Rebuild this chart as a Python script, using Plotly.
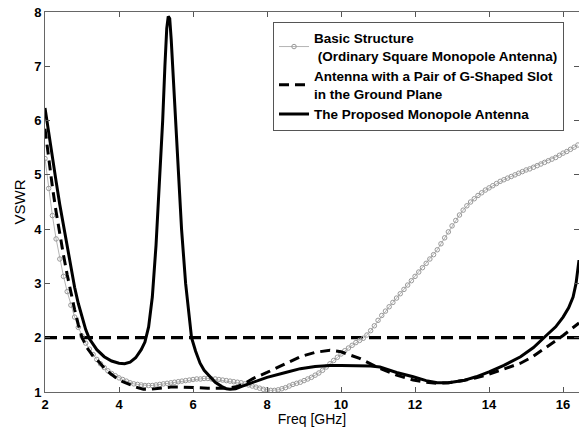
import plotly.graph_objects as go

# ---- Data ----
basic_freq = [round(2.0 + 0.1 * i, 1) for i in range(145)]  # 2.0 .. 16.4 GHz sample grid
basic_vswr = [
    5.30, 4.75, 4.25, 3.82, 3.45, 3.13, 2.85, 2.60, 2.38, 2.19,
    2.03, 1.90, 1.79, 1.69, 1.60, 1.52, 1.45, 1.39, 1.34, 1.30,
    1.26, 1.23, 1.20, 1.17, 1.15, 1.14, 1.13, 1.12, 1.12, 1.12,
    1.13, 1.14, 1.15, 1.16, 1.17, 1.18, 1.19, 1.20, 1.21, 1.22,
    1.23, 1.24, 1.24, 1.25, 1.25, 1.24, 1.24, 1.23, 1.22, 1.21,
    1.20, 1.19, 1.18, 1.17, 1.15, 1.13, 1.11, 1.09, 1.07, 1.05,
    1.04, 1.03, 1.03, 1.04, 1.06, 1.08, 1.11, 1.14, 1.16, 1.18,
    1.21, 1.24, 1.27, 1.31, 1.35, 1.40, 1.46, 1.52, 1.58, 1.64,
    1.70, 1.76, 1.81, 1.86, 1.91, 1.95, 1.99, 2.05, 2.13, 2.22,
    2.32, 2.41, 2.49, 2.57, 2.65, 2.73, 2.81, 2.89, 2.97, 3.05,
    3.13, 3.21, 3.29, 3.37, 3.45, 3.53, 3.62, 3.73, 3.84, 3.95,
    4.06, 4.16, 4.26, 4.35, 4.43, 4.50, 4.56, 4.62, 4.67, 4.72,
    4.76, 4.80, 4.84, 4.88, 4.91, 4.94, 4.97, 5.00, 5.03, 5.06,
    5.09, 5.11, 5.14, 5.17, 5.20, 5.23, 5.26, 5.29, 5.32, 5.36,
    5.40, 5.43, 5.47, 5.51, 5.55,
]

gslot_freq = [2.0, 2.1, 2.2, 2.3, 2.4, 2.5, 2.6, 2.7, 2.8, 2.9, 3.0, 3.15, 3.3,
              3.45, 3.6, 3.75, 3.9, 4.1, 4.3, 4.5, 4.66, 4.85, 5.1, 5.4, 5.7,
              6.0, 6.4, 6.9, 7.2, 7.45, 7.63, 8.0, 8.5, 8.9, 9.3, 9.7, 10.0,
              10.5, 11.0, 11.5, 11.95, 12.3, 12.6, 12.9, 13.3, 13.65, 14.0,
              14.4, 14.85, 15.2, 15.56, 15.8, 16.0, 16.2, 16.43]
gslot_vswr = [5.85, 5.28, 4.78, 4.32, 3.90, 3.52, 3.16, 2.83, 2.52, 2.24, 2.00,
              1.80, 1.66, 1.56, 1.44, 1.35, 1.27, 1.19, 1.13, 1.08, 1.05, 1.05,
              1.07, 1.09, 1.09, 1.08, 1.07, 1.07, 1.10, 1.18, 1.25, 1.36, 1.52,
              1.65, 1.73, 1.77, 1.74, 1.62, 1.45, 1.31, 1.22, 1.18, 1.16, 1.17,
              1.21, 1.26, 1.33, 1.42, 1.53, 1.66, 1.83, 1.94, 2.04, 2.15, 2.27]

proposed_freq = [2.0, 2.1, 2.2, 2.3, 2.4, 2.5, 2.6, 2.7, 2.8, 2.9, 3.0, 3.1, 3.2,
                 3.3, 3.4, 3.6, 3.8, 4.0, 4.15, 4.3, 4.45, 4.6, 4.7, 4.8, 4.9,
                 5.0, 5.1, 5.18, 5.24, 5.29, 5.33, 5.37, 5.41, 5.45, 5.51, 5.6,
                 5.69, 5.8, 5.88, 5.96, 6.07, 6.19, 6.3, 6.46, 6.6, 6.78, 6.9,
                 7.0, 7.15, 7.3, 7.5, 7.63, 8.0, 8.5, 8.9, 9.3, 9.7, 10.0, 10.5,
                 10.8, 11.05, 11.5, 11.95, 12.3, 12.6, 12.9, 13.3, 13.65, 14.0,
                 14.4, 14.85, 15.2, 15.56, 15.8, 16.0, 16.15, 16.27, 16.35, 16.43]
proposed_vswr = [6.23, 5.75, 5.30, 4.88, 4.45, 4.05, 3.65, 3.27, 2.93, 2.63, 2.37,
                 2.15, 1.98, 1.87, 1.78, 1.65, 1.57, 1.53, 1.52, 1.55, 1.63, 1.78,
                 1.92, 2.20, 2.75, 3.70, 4.90, 6.00, 7.00, 7.70, 7.92, 7.88, 7.50,
                 7.00, 6.00, 5.00, 4.00, 3.00, 2.45, 2.00, 1.75, 1.53, 1.40, 1.28,
                 1.18, 1.10, 1.06, 1.05, 1.06, 1.10, 1.15, 1.18, 1.27, 1.36, 1.43,
                 1.47, 1.49, 1.49, 1.49, 1.48, 1.46, 1.36, 1.28, 1.21, 1.17, 1.17,
                 1.21, 1.28, 1.37, 1.49, 1.65, 1.82, 2.05, 2.20, 2.38, 2.55, 2.75,
                 3.00, 3.43]

threshold_freq = [2.0, 16.43]
threshold_vswr = [2.0, 2.0]

x_ticks = [2, 4, 6, 8, 10, 12, 14, 16]
y_ticks = [1, 2, 3, 4, 5, 6, 7, 8]

FONT = "Liberation Sans, Arial"

fig = go.Figure()

fig.add_trace(go.Scatter(
    x=threshold_freq, y=threshold_vswr, mode="lines",
    line=dict(color="black", width=3.2, dash="12px,6px"),
    showlegend=False, hoverinfo="skip",
))
fig.add_trace(go.Scatter(
    x=basic_freq, y=basic_vswr, mode="lines+markers",
    name="Basic Structure<br> (Ordinary Square Monopole Antenna)",
    line=dict(color="#b4b4b4", width=1),
    marker=dict(symbol="circle-open", size=4.5, color="#999999", line=dict(width=1)),
))
fig.add_trace(go.Scatter(
    x=gslot_freq, y=gslot_vswr, mode="lines",
    name="Antenna with a Pair of G-Shaped Slot<br>in the Ground Plane",
    line=dict(color="black", width=3, dash="10px,6px"),
))
fig.add_trace(go.Scatter(
    x=proposed_freq, y=proposed_vswr, mode="lines",
    name="The Proposed Monopole Antenna",
    line=dict(color="black", width=3),
))

axis_common = dict(
    showgrid=False, zeroline=False, showline=True, linecolor="#666666",
    linewidth=1, mirror="ticks", ticks="inside", ticklen=5, tickcolor="#555555",
    tickfont=dict(family=FONT, size=13, color="black", weight=700),
)

fig.update_layout(
    width=579, height=427,
    margin=dict(l=45, r=0, t=12, b=35),
    paper_bgcolor="white", plot_bgcolor="white",
    font=dict(family=FONT, color="black"),
    xaxis=dict(range=[2, 16.43], tickvals=x_ticks,
               title=dict(text="Freq [GHz]", font=dict(size=14), standoff=2),
               **axis_common),
    yaxis=dict(range=[1, 8], tickvals=y_ticks,
               title=dict(text="VSWR", font=dict(size=15), standoff=4),
               **axis_common),
    legend=dict(
        x=0.427, y=0.975, xanchor="left", yanchor="top",
        bgcolor="white", bordercolor="#555555", borderwidth=1,
        font=dict(family=FONT, size=13.5, color="black", weight=700),
        tracegroupgap=0, itemwidth=30,
    ),
)

fig.write_html("out.html")
